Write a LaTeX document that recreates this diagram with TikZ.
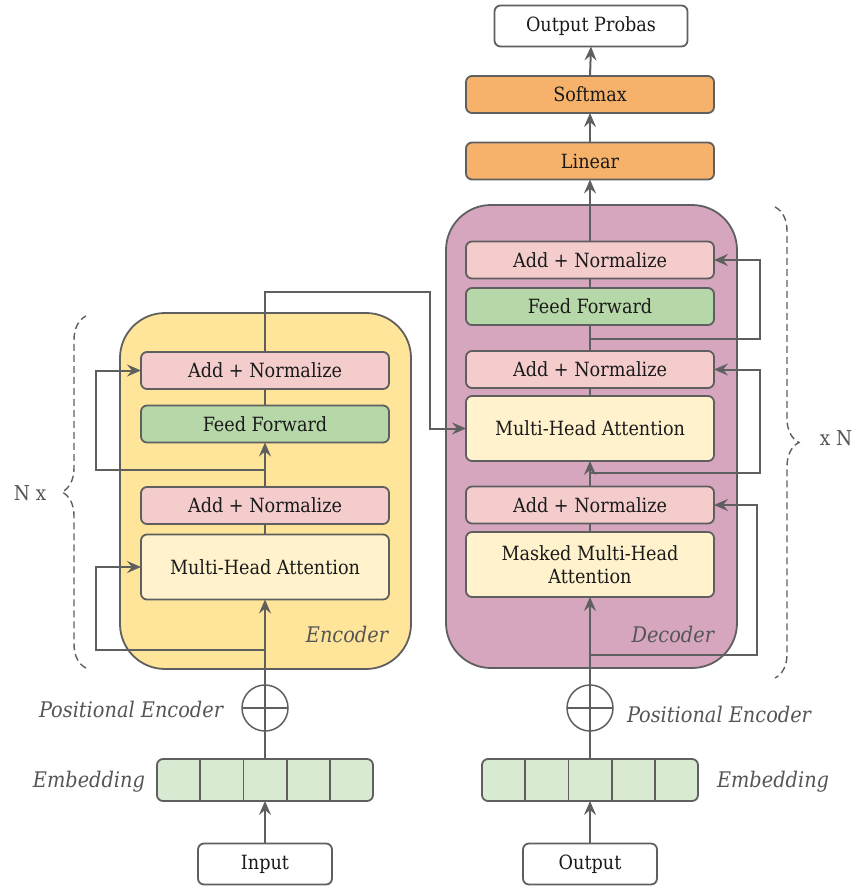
\documentclass[tikz,border=0pt]{standalone}
\usepackage{fontspec}
\setmainfont{DejaVu Serif Condensed}
\usetikzlibrary{arrows.meta,decorations.pathreplacing,calc}

\definecolor{linec}{HTML}{5F5F5F}
\definecolor{textc}{HTML}{1A1A1A}
\definecolor{labelc}{HTML}{555555}
\definecolor{encbg}{HTML}{FFE599}
\definecolor{decbg}{HTML}{D5A6BD}
\definecolor{addc}{HTML}{F4CCCC}
\definecolor{ffc}{HTML}{B6D7A8}
\definecolor{attc}{HTML}{FFF2CC}
\definecolor{orc}{HTML}{F6B26B}
\definecolor{embc}{HTML}{D9EAD3}

\begin{document}
\begin{tikzpicture}[x=1pt,y=-1pt,
  every node/.style={inner sep=0pt, outer sep=0pt},
  txt/.style={font=\fontsize{19.6}{22.5}\selectfont, text=textc},
  box/.style={txt, draw=linec, line width=1.8pt, rounded corners=6pt,
              minimum width=248pt, minimum height=37pt},
  bigbox/.style={box, minimum height=65pt, align=center},
  container/.style={draw=linec, line width=1.8pt, rounded corners=45pt},
  ioface/.style={txt, draw=linec, line width=1.8pt, rounded corners=6pt,
                 fill=white, minimum width=134pt, minimum height=41pt},
  embbox/.style={draw=linec, line width=1.8pt, rounded corners=6pt,
                 fill=embc, minimum width=216pt, minimum height=42pt},
  pecircle/.style={circle, draw=linec, line width=1.5pt, minimum size=46pt},
  lbl/.style={font=\fontsize{21.5}{24}\selectfont\itshape, text=labelc},
  plainlbl/.style={font=\fontsize{20.5}{24}\selectfont, text=labelc},
  conn/.style={draw=linec, line width=2pt},
  arr/.style={conn, -{Stealth[length=14pt,width=12pt,inset=5pt]}},
  bracestyle/.style={draw=linec, line width=1.4pt, dash pattern=on 7pt off 4pt,
                     decorate, decoration={brace, amplitude=24pt, aspect=0.5}}
]
\useasboundingbox (0,0) rectangle (853,886);

% ---------- encoder stack ----------
\node[container, fill=encbg, minimum width=291pt, minimum height=356pt] (enc) at (265.5,491) {};
\node[box, fill=addc] (eAN2) at (265,370.5) {Add + Normalize};
\node[box, fill=ffc]  (eFF)  at (265,424)   {Feed Forward};
\node[box, fill=addc] (eAN1) at (265,505.5) {Add + Normalize};
\node[bigbox, fill=attc] (eMHA) at (265,567) {Multi-Head Attention};
\node[lbl, anchor=east] (encl) at (388,634) {Encoder};

% ---------- decoder stack ----------
\node[container, fill=decbg, minimum width=291pt, minimum height=463pt] (dec) at (591.5,436.5) {};
\node[box, fill=addc] (dAN3) at (590,260) {Add + Normalize};
\node[box, fill=ffc]  (dFF)  at (590,306.5) {Feed Forward};
\node[box, fill=addc] (dAN2) at (590,369.5) {Add + Normalize};
\node[bigbox, fill=attc] (dMHA) at (590,428.5) {Multi-Head Attention};
\node[box, fill=addc] (dAN1) at (590,505) {Add + Normalize};
\node[bigbox, fill=attc] (dMMHA) at (590,564.5) {Masked Multi-Head\\Attention};
\node[lbl, anchor=east] (decl) at (714,634) {Decoder};

% ---------- output head ----------
\node[box, fill=orc] (lin)  at (590,161)  {Linear};
\node[box, fill=orc] (soft) at (590,94.5) {Softmax};
\node[ioface, minimum width=193pt] (prob) at (591,26) {Output Probas};

% ---------- inputs ----------
\node[embbox] (emb1) at (265,780) {};
\node[embbox] (emb2) at (590,780) {};
\foreach \e in {emb1,emb2}{
  \foreach \i in {1,...,4}{
    \draw[linec, line width=1.8pt] ($(\e.north west)+(43.2*\i,0)$) -- ($(\e.south west)+(43.2*\i,0)$);
  }
}
\node[pecircle] (pe1) at (265,708) {};
\node[pecircle] (pe2) at (590,708) {};
\draw[linec, line width=1.5pt] (pe1.west) -- (pe1.east);
\draw[linec, line width=1.5pt] (pe2.west) -- (pe2.east);
\node[ioface] (inp) at (265,864) {Input};
\node[ioface] (outp) at (590,864) {Output};

\node[lbl, anchor=east] (pel1) at (223,709) {Positional Encoder};
\node[lbl, anchor=west] (pel2) at (627,714) {Positional Encoder};
\node[lbl, anchor=east] (embl1) at (145,782) {Embedding};
\node[lbl, anchor=west] (embl2) at (717,782) {Embedding};

% ---------- repetition braces ----------
\coordinate (lbB) at (86,668);
\coordinate (lbT) at (86,316);
\draw[bracestyle] (lbB) -- (lbT);
\node[plainlbl] (nx) at (30,493) {N x};
\coordinate (rbT) at (775,207);
\coordinate (rbB) at (775,678);
\draw[bracestyle] (rbT) -- (rbB);
\node[plainlbl] (xn) at (836,438) {x N};

% ---------- encoder connectors ----------
\draw[arr] (inp.north) -- (emb1.south);
\draw[conn] (emb1.north) -- (pe1.south) -- (pe1.north);
\draw[arr] (pe1.north) -- (eMHA.south);
\coordinate (eR1) at (265,650);
\coordinate (eL1) at (96,650);
\draw[arr] (eR1) -- (eL1) |- (eMHA.west);
\draw[conn] (eMHA.north) -- (eAN1.south);
\draw[arr] (eAN1.north) -- (eFF.south);
\coordinate (eR2) at (265,470);
\coordinate (eL2) at (96,470);
\draw[arr] (eR2) -- (eL2) |- (eAN2.west);
\draw[conn] (eFF.north) -- (eAN2.south);
\coordinate (xA) at (265,292);
\coordinate (xB) at (430,292);
\draw[arr] (eAN2.north) -- (xA) -- (xB) |- (dMHA.west);

% ---------- decoder connectors ----------
\draw[arr] (outp.north) -- (emb2.south);
\draw[conn] (emb2.north) -- (pe2.south) -- (pe2.north);
\draw[arr] (pe2.north) -- (dMMHA.south);
\coordinate (dR1) at (590,655);
\coordinate (dL1) at (757,655);
\draw[arr] (dR1) -- (dL1) |- (dAN1.east);
\draw[conn] (dMMHA.north) -- (dAN1.south);
\draw[arr] (dAN1.north) -- (dMHA.south);
\coordinate (dR2) at (590,473);
\coordinate (dL2) at (760,473);
\draw[arr] (dR2) -- (dL2) |- (dAN2.east);
\draw[conn] (dMHA.north) -- (dAN2.south);
\draw[conn] (dAN2.north) -- (dFF.south);
\coordinate (dR3) at (590,339);
\coordinate (dL3) at (760,339);
\draw[arr] (dR3) -- (dL3) |- (dAN3.east);
\draw[conn] (dFF.north) -- (dAN3.south);
\draw[arr] (dAN3.north) -- (lin.south);
\draw[arr] (lin.north) -- (soft.south);
\draw[arr] (soft.north) -- (prob.south);
\end{tikzpicture}
\end{document}
